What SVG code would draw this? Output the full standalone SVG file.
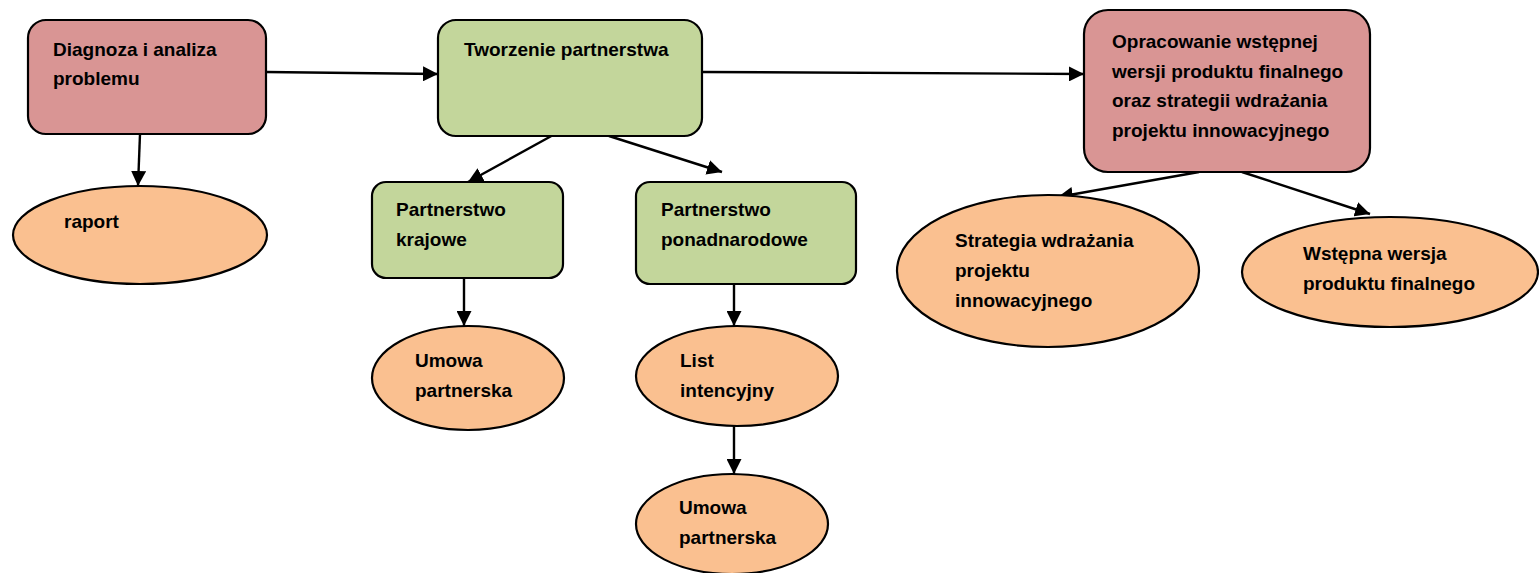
<svg xmlns="http://www.w3.org/2000/svg" width="1539" height="573" viewBox="0 0 1539 573">
<defs>
<marker id="ah" viewBox="0 0 15 15" refX="15" refY="7.5" markerWidth="15" markerHeight="15" markerUnits="userSpaceOnUse" orient="auto">
<path d="M0,0 L15,7.5 L0,15 z" fill="#000"/>
</marker>
<style>
.pink{fill:#D99594;stroke:#000;stroke-width:2.2}
.green{fill:#C3D69B;stroke:#000;stroke-width:2.2}
.orange{fill:#FAC090;stroke:#000;stroke-width:2.2}
.t{font-family:"Liberation Sans",Arial,sans-serif;font-weight:bold;font-size:19px;fill:#000}
.c{stroke:#000;stroke-width:2.4;fill:none;marker-end:url(#ah)}
</style>
</defs>
<rect width="1539" height="573" fill="#fff"/>
<g id="connectors">
<line class="c" x1="266" y1="72" x2="438" y2="74"/>
<line class="c" x1="702" y1="72" x2="1084" y2="74"/>
<line class="c" x1="140" y1="134" x2="138" y2="186"/>
<line class="c" x1="555" y1="134" x2="468" y2="182"/>
<line class="c" x1="609" y1="136" x2="722" y2="172"/>
<line class="c" x1="464" y1="278" x2="464" y2="326"/>
<line class="c" x1="734" y1="278" x2="734" y2="326"/>
<line class="c" x1="734" y1="426" x2="734" y2="474"/>
<line class="c" x1="1199" y1="172" x2="1058" y2="197"/>
<line class="c" x1="1242" y1="172" x2="1370" y2="214"/>
</g>
<g id="n-diagnoza">
<rect class="pink" x="28" y="20" width="238" height="114" rx="18"/>
<text class="t" x="53" y="56">Diagnoza i analiza</text>
<text class="t" x="53" y="85">problemu</text>
</g>
<g id="n-tworzenie">
<rect class="green" x="438" y="20" width="264" height="116" rx="18"/>
<text class="t" x="464" y="56">Tworzenie partnerstwa</text>
</g>
<g id="n-opracowanie">
<rect class="pink" x="1084" y="10" width="286" height="162" rx="24"/>
<text class="t" x="1112" y="48">Opracowanie wstępnej</text>
<text class="t" x="1112" y="78">wersji produktu finalnego</text>
<text class="t" x="1112" y="107">oraz strategii wdrażania</text>
<text class="t" x="1112" y="137">projektu innowacyjnego</text>
</g>
<g id="n-raport">
<ellipse class="orange" cx="140" cy="235" rx="127" ry="49"/>
<text class="t" x="64" y="228">raport</text>
</g>
<g id="n-krajowe">
<rect class="green" x="372" y="182" width="191" height="96" rx="14"/>
<text class="t" x="396" y="216">Partnerstwo</text>
<text class="t" x="396" y="246">krajowe</text>
</g>
<g id="n-ponadnarodowe">
<rect class="green" x="636" y="182" width="220" height="102" rx="14"/>
<text class="t" x="661" y="216">Partnerstwo</text>
<text class="t" x="661" y="246">ponadnarodowe</text>
</g>
<g id="n-umowa1">
<ellipse class="orange" cx="468" cy="378" rx="96" ry="52"/>
<text class="t" x="415" y="367">Umowa</text>
<text class="t" x="415" y="397">partnerska</text>
</g>
<g id="n-list">
<ellipse class="orange" cx="737" cy="376" rx="101" ry="50"/>
<text class="t" x="680" y="367">List</text>
<text class="t" x="680" y="397">intencyjny</text>
</g>
<g id="n-umowa2">
<ellipse class="orange" cx="732" cy="524" rx="96" ry="50"/>
<text class="t" x="679" y="514">Umowa</text>
<text class="t" x="679" y="544">partnerska</text>
</g>
<g id="n-strategia">
<ellipse class="orange" cx="1048" cy="271" rx="151" ry="76"/>
<text class="t" x="955" y="247">Strategia wdrażania</text>
<text class="t" x="955" y="277">projektu</text>
<text class="t" x="955" y="307">innowacyjnego</text>
</g>
<g id="n-wstepna">
<ellipse class="orange" cx="1390" cy="272" rx="148" ry="55"/>
<text class="t" x="1303" y="260">Wstępna wersja</text>
<text class="t" x="1303" y="290">produktu finalnego</text>
</g>
</svg>
